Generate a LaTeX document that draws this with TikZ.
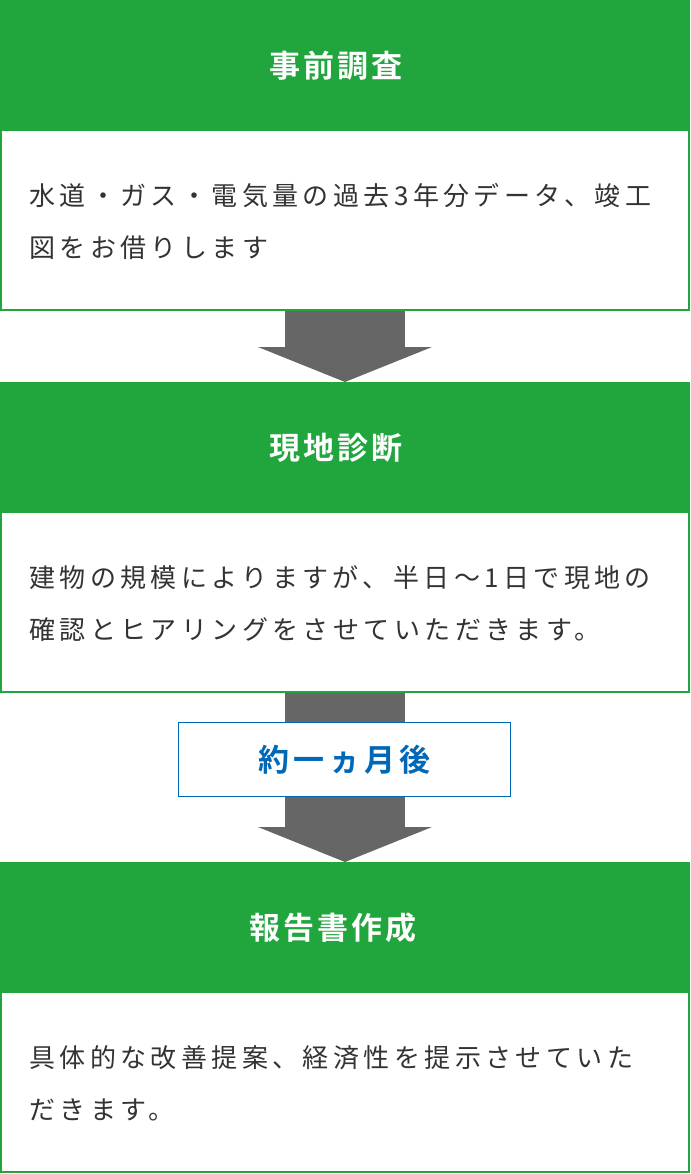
\documentclass[tikz,border=0pt]{standalone}
\usepackage{fontspec}
\usetikzlibrary{arrows.meta,backgrounds}
\newfontfamily\bodyjp[LetterSpace=17]{Noto Sans CJK JP}
\newfontfamily\headjp[LetterSpace=10]{Noto Sans CJK JP Bold}
\newfontfamily\labeljp[LetterSpace=13]{Noto Sans CJK JP Bold}
\definecolor{fgreen}{HTML}{21A53D}
\definecolor{fblue}{HTML}{0068B7}
\definecolor{agray}{HTML}{666666}
\definecolor{txtgray}{HTML}{333333}
\begin{document}
\begin{tikzpicture}[x=1pt,y=-1pt,
  bodybox/.style={draw=fgreen, line width=2pt, fill=white, rectangle, minimum width=688pt, minimum height=180pt, inner sep=0pt, outer sep=0pt},
  headbar/.style={fill=fgreen, rectangle, minimum width=690pt, minimum height=131pt, inner sep=0pt, outer sep=0pt},
  titletext/.style={text=white, font=\headjp\fontsize{31}{31}\selectfont, inner sep=0pt},
  bodyline/.style={text=txtgray, font=\bodyjp\fontsize{26}{26}\selectfont, anchor=west, inner sep=0pt},
  flowarrow/.style={draw=agray, line width=120pt, -{Triangle[length=35pt 0, width=173pt 0]}},
  waitbox/.style={draw=fblue, line width=1.5pt, fill=white, rectangle, minimum width=332pt, minimum height=74pt, inner sep=0pt, text=fblue, font=\labeljp\fontsize{31}{31}\selectfont}]
\useasboundingbox (0,0) rectangle (690,1174);
% box 1
\node[bodybox] (body1) at (345,220) {};
\node[headbar] (head1) at (345,65.5) {};
\node[titletext] (title1) at (336,66) {事前調査};
\node[bodyline] (t1a) at (29,196) {水道・ガス・電気量の過去3年分データ、竣工};
\node[bodyline] (t1b) at (29,248) {図をお借りします};
% box 2
\node[bodybox] (body2) at (345,602) {};
\node[headbar] (head2) at (345,447.5) {};
\node[titletext] (title2) at (336,448) {現地診断};
\node[bodyline] (t2a) at (29,578) {建物の規模によりますが、半日〜1日で現地の};
\node[bodyline] (t2b) at (29,630) {確認とヒアリングをさせていただきます。};
% box 3
\node[bodybox] (body3) at (345,1082) {};
\node[headbar] (head3) at (345,927.5) {};
\node[titletext] (title3) at (333,928) {報告書作成};
\node[bodyline] (t3a) at (29,1058) {具体的な改善提案、経済性を提示させていた};
\node[bodyline] (t3b) at (29,1110) {だきます。};
% arrows
\begin{pgfonlayer}{background}
\draw[flowarrow] (body1.south) -- (head2.north);
\draw[flowarrow] (body2.south) -- (head3.north);
\end{pgfonlayer}
\node[waitbox] (wait) at (344.5,759.5) {約一ヵ月後};
\end{tikzpicture}
\end{document}
